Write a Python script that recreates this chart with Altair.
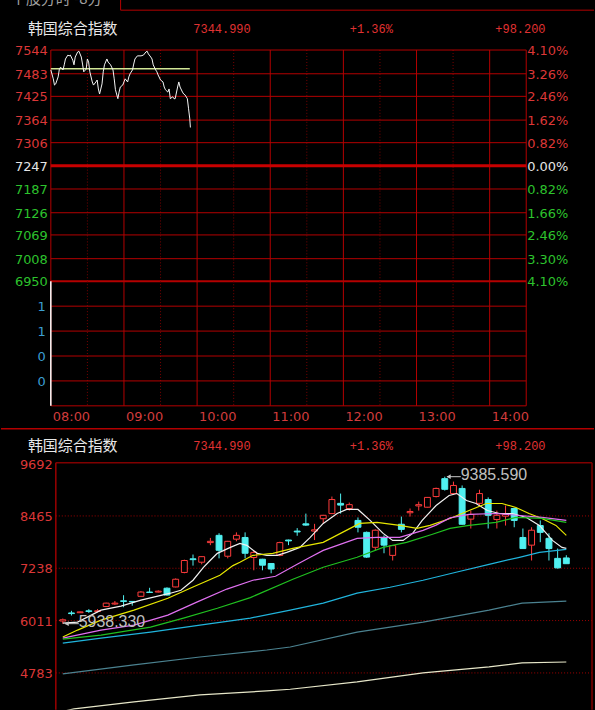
import altair as alt
import pandas as pd

# ---------------- texts ----------------
index_name = "韩国综合指数"
quote_last = "7344.990"
quote_pct = "+1.36%"
quote_chg = "+98.200"
strip_caption = "个股分时 -8分"

# ---------------- intraday panel ----------------
prev_close = 7247
price_ticks = [7544, 7483, 7425, 7364, 7306, 7247, 7187, 7126, 7069, 7008, 6950]
pct_labels = ["4.10%", "3.26%", "2.46%", "1.62%", "0.82%", "0.00%",
              "0.82%", "1.66%", "2.46%", "3.30%", "4.10%"]

vol_ticks = [1.0, 0.75, 0.5, 0.25]
vol_labels = ["1", "1", "0", "0"]
vol_minutes = [0]
vol_values = [1.25]

hour_minutes = [0, 60, 120, 180, 240, 300, 360]
hour_labels = ["08:00", "09:00", "10:00", "11:00", "12:00", "13:00", "14:00"]
half_minutes = [30, 90, 150, 210, 270, 330]
session_end = 390

intraday_minutes = [0, 2, 3, 4, 6, 7, 8, 10, 11, 12, 14, 15, 16, 18, 19, 20, 22, 23, 25, 26,
                    27, 29, 30, 31, 32, 34, 35, 37, 38, 39, 40, 42, 43, 44, 46, 47, 49, 51, 52, 53,
                    55, 56, 57, 59, 60, 61, 63, 64, 65, 67, 68, 69, 71, 74, 76, 78, 79, 80, 82, 83,
                    84, 86, 87, 88, 90, 92, 93, 94, 96, 97, 98, 100, 101, 102, 104, 105, 106, 108,
                    109, 110, 112, 113, 114, 114.5]
intraday_prices = [7493, 7470, 7454, 7457, 7475, 7495, 7500, 7493, 7506, 7521, 7531, 7529, 7531,
                   7518, 7506, 7526, 7539, 7541, 7526, 7508, 7488, 7495, 7521, 7513, 7488, 7462,
                   7454, 7462, 7467, 7444, 7431, 7457, 7488, 7506, 7521, 7513, 7506, 7493, 7470,
                   7442, 7419, 7436, 7449, 7454, 7462, 7470, 7462, 7475, 7483, 7493, 7508, 7521,
                   7529, 7529, 7531, 7539, 7541, 7534, 7526, 7521, 7506, 7493, 7488, 7480, 7467,
                   7462, 7449, 7442, 7436, 7444, 7419, 7424, 7419, 7419, 7449, 7462, 7449, 7436,
                   7431, 7429, 7419, 7393, 7367, 7345]
avg_minutes = [0, 114]
avg_prices = [7496, 7496]

# ---------------- daily K-line panel ----------------
k_open = [6000, 6190, 6195, 6240, 6225, 6340, 6400, 6475, 6460, 6580,
          6680, 6680, 6770, 6800, 7140, 7460, 7380, 7840, 8010, 7520,
          7920, 7960, 7490, 7450, 7350, 7540, 7900, 8110, 8280, 8110,
          8400, 8520, 8760, 8640, 8360, 8080, 7730, 7960, 7540, 8270,
          8540, 8700, 8670, 8920, 9340, 8990, 9110, 8390, 8760, 8850,
          8380, 8460, 8640, 7960, 7780, 8240, 7940, 7470, 7480]
k_close = [6030, 6175, 6215, 6225, 6240, 6420, 6420, 6460, 6450, 6680,
           6670, 6700, 6610, 6980, 7420, 7440, 7510, 7870, 7660, 7870,
           8010, 7590, 7610, 7310, 7220, 7840, 7880, 8090, 8250, 8140,
           8480, 8850, 8720, 8730, 8200, 7500, 8130, 7780, 7770, 8150,
           8570, 8730, 8900, 9110, 9090, 9180, 8270, 8500, 8990, 8480,
           8480, 8500, 8360, 7700, 8130, 8080, 7700, 7247, 7345]
k_high = [6060, 6240, 6225, 6280, 6280, 6430, 6470, 6606, 6470, 6700,
          6780, 6720, 6790, 7000, 7440, 7560, 7520, 7950, 8060, 7880,
          8080, 8080, 7660, 7460, 7360, 7860, 7910, 8180, 8520, 8280,
          8490, 8920, 8990, 8780, 8430, 8100, 8150, 8010, 7780, 8450,
          8640, 8800, 8910, 9130, 9385.59, 9270, 9180, 8590, 9080, 8900,
          8590, 8710, 8660, 8170, 8200, 8360, 8060, 7700, 7544]
k_low = [5938.33, 6130, 6190, 6190, 6200, 6330, 6380, 6325, 6360, 6570,
         6665, 6670, 6600, 6790, 7120, 7300, 7330, 7780, 7470, 7470,
         7870, 7470, 7190, 7190, 7120, 7520, 7780, 8000, 8230, 7900,
         8290, 8510, 8520, 8590, 8080, 7480, 7660, 7590, 7420, 8080,
         8450, 8590, 8660, 8900, 9060, 8970, 8260, 8170, 8710, 8170,
         8170, 8240, 8200, 7700, 7420, 7850, 7420, 7230, 7340]
k_ticks = [9692, 8465, 7238, 6011, 4783]

ma5_idx = [0, 1.7, 4.4, 6.7, 9, 12.4, 13.6, 15, 16.2, 17, 17.8, 19.3, 20.4, 21.2, 22.4, 23.5, 24.7,
           25.8, 27.3, 28.5, 30, 31.6, 32.7, 34, 35.4, 36.9, 38, 39.2, 40.3, 41.4, 43, 44.5, 45.4,
           46.5, 47.6, 48.9, 50.3, 51.8, 53.4, 54.9, 56.4, 57.5, 58]
ma5_val = [5952, 5975, 6256, 6349, 6490, 6653, 6723, 6957, 7261, 7425, 7588, 7728, 7822, 7775, 7588,
           7541, 7541, 7612, 7728, 7962, 8289, 8523, 8617, 8617, 8360, 8056, 7892, 7892, 8056, 8360,
           8710, 8944, 8991, 8827, 8757, 8593, 8523, 8523, 8430, 8243, 7892, 7728, 7705]
ma10_idx = [0, 1.7, 4.4, 8.2, 12.1, 15, 18.1, 19.6, 20.4, 21.9, 24.2, 26.5, 30, 33.1, 34.2, 36.2,
            38.8, 40.8, 42.3, 44.6, 46.8, 48.8, 50.6, 52.2, 53.7, 55.2, 56.8, 58]
ma10_val = [5625, 5788, 6022, 6256, 6536, 6800, 7074, 7300, 7378, 7541, 7588, 7705, 7845, 8173,
            8289, 8313, 8243, 8173, 8243, 8406, 8593, 8757, 8757, 8663, 8523, 8406, 8243, 8009]
ma20_idx = [0, 4.4, 8.2, 12.1, 15.5, 18.9, 21.9, 24.5, 27, 28.5, 30, 33.9, 36.2, 38.8, 41.5, 43,
            44.6, 46.8, 49.9, 52.6, 55.2, 58]
ma20_val = [5601, 5788, 5905, 6139, 6450, 6750, 6957, 7050, 7330, 7495, 7658, 7939, 7962, 7962,
            8126, 8250, 8420, 8500, 8523, 8476, 8430, 8360]
ma30_idx = [0, 4.4, 10.1, 13.9, 17.8, 21.6, 26.5, 30, 33.9, 36.9, 39.6, 42.5, 44.6, 46.8, 49.9,
            52.2, 55.2, 58]
ma30_val = [5578, 5671, 5858, 6069, 6300, 6550, 6980, 7261, 7495, 7728, 7845, 8030, 8173, 8243,
            8313, 8430, 8406, 8313]
ma60_idx = [0, 4.4, 10.1, 15.8, 21.6, 26.2, 30, 33.9, 37.7, 41.5, 45.3, 49.1, 52.6, 54.9, 58]
ma60_val = [5484, 5601, 5742, 5905, 6069, 6256, 6419, 6653, 6793, 6957, 7144, 7331, 7495, 7612, 7682]
ma120_idx = [0, 8.2, 15.8, 23.5, 26.2, 33.9, 41.5, 49.1, 52.9, 58]
ma120_val = [4760, 4970, 5157, 5321, 5391, 5742, 5975, 6256, 6419, 6466]
ma250_idx = [0, 1.3, 8.2, 15.8, 23.5, 26.2, 33.9, 41.5, 49.1, 52.9, 58]
ma250_val = [3880, 3941, 4105, 4269, 4360, 4400, 4573, 4783, 4923, 5017, 5040]

ann_idx = [44, 0]
ann_val = [9385.59, 5938.33]
ann_label = ["9385.590", "5938.330"]

# ---------------- styles / layout ----------------
RED_GRID = "#b40000"
RED_DOT = "#780000"
RED_TXT = "#dc3737"
GREEN_TXT = "#2dc32d"
WHITE_TXT = "#e6e6e6"
BLUE_TXT = "#3c9fd2"
UP = "#ff3c3c"
DOWN = "#50f0f0"
NUM_FONT = "DejaVu Sans"

W_TOP, H_PRICE, H_VOL, GAP = 477, 232, 125, 58
W_BOT, H_BOT = 543, 247

xs_min = alt.Scale(domain=[0, session_end], nice=False, zero=False)
ys_price = alt.Scale(domain=[price_ticks[-1], price_ticks[0]], nice=False, zero=False)
# volume panel also holds the gap below it: 0.01 per pixel
ys_vol = alt.Scale(domain=[-0.58, 1.25], nice=False, zero=False)
xs_k = alt.Scale(domain=[-1.378, 60.96], nice=False, zero=False)
ys_k = alt.Scale(domain=[3918, 9692], nice=False, zero=False)

one = pd.DataFrame({"k": [0]})


def header(y_px):
    t = alt.Chart(one).mark_text(align="left", baseline="middle", font="Noto Sans CJK SC",
                                 fontSize=15, color="#e8e8e8").encode(
        x=alt.value(-23), y=alt.value(y_px), text=alt.value(index_name))
    layers = [t]
    for xp, s in [(143, quote_last), (300, quote_pct), (446, quote_chg)]:
        layers.append(alt.Chart(one).mark_text(align="left", baseline="middle", font="Liberation Mono",
                                               fontSize=12, color="#e03232").encode(
            x=alt.value(xp), y=alt.value(y_px), text=alt.value(s)))
    return layers


# ---------------- price panel ----------------
ticks_df = pd.DataFrame({"v": price_ticks, "lab": [str(v) for v in price_ticks], "pct": pct_labels})
hours_df = pd.DataFrame({"m": hour_minutes + [session_end]})
halves_df = pd.DataFrame({"m": half_minutes})
intra_df = pd.DataFrame({"m": intraday_minutes, "p": intraday_prices})
avg_df = pd.DataFrame({"m": avg_minutes, "p": avg_prices})

canvas = alt.Chart(one).mark_rect(color="#000000").encode(
    x=alt.value(-50), x2=alt.value(545), y=alt.value(-60), y2=alt.value(662))
strip_v = alt.Chart(one).mark_rule(color=RED_GRID).encode(
    x=alt.value(70), y=alt.value(-60), y2=alt.value(-40))
strip_h = alt.Chart(one).mark_rule(color=RED_GRID).encode(
    x=alt.value(70), x2=alt.value(545), y=alt.value(-40))
strip_txt = alt.Chart(one).mark_text(align="left", baseline="bottom", font="Noto Sans CJK SC",
                                     fontSize=15, color="#a0a0a0").encode(
    x=alt.value(-40), y=alt.value(-43), text=alt.value(strip_caption))

hgrid = alt.Chart(ticks_df).transform_filter(f"datum.v != {prev_close}").mark_rule(color=RED_GRID).encode(
    y=alt.Y("v:Q", scale=ys_price, axis=None), x=alt.value(0), x2=alt.value(W_TOP),
    strokeWidth=alt.condition(f"datum.v == {price_ticks[-1]}", alt.value(2), alt.value(1)))
base_line = alt.Chart(pd.DataFrame({"v": [prev_close]})).mark_rule(color="#c80000", strokeWidth=3).encode(
    y=alt.Y("v:Q", scale=ys_price, axis=None), x=alt.value(0), x2=alt.value(W_TOP))
vgrid = alt.Chart(hours_df).mark_rule(color=RED_GRID).encode(
    x=alt.X("m:Q", scale=xs_min, axis=None), y=alt.value(0), y2=alt.value(H_PRICE))
vdots = alt.Chart(halves_df).mark_rule(color=RED_DOT, strokeDash=[1, 2]).encode(
    x=alt.X("m:Q", scale=xs_min, axis=None), y=alt.value(0), y2=alt.value(H_PRICE))
avg_line = alt.Chart(avg_df).mark_line(color="#d2e696", strokeWidth=1.5).encode(
    x=alt.X("m:Q", scale=xs_min, axis=None), y=alt.Y("p:Q", scale=ys_price, axis=None))
intra_line = alt.Chart(intra_df).mark_line(color="#f5f5f5", strokeWidth=1).encode(
    x=alt.X("m:Q", scale=xs_min, axis=None), y=alt.Y("p:Q", scale=ys_price, axis=None))

label_layers = []
for test, col in [(f"datum.v > {prev_close}", RED_TXT), (f"datum.v == {prev_close}", WHITE_TXT),
                  (f"datum.v < {prev_close}", GREEN_TXT)]:
    label_layers.append(alt.Chart(ticks_df).transform_filter(test).mark_text(
        align="right", baseline="middle", font=NUM_FONT, fontSize=13, dy=1, color=col).encode(
        y=alt.Y("v:Q", scale=ys_price, axis=None), x=alt.value(-3), text="lab:N"))
    label_layers.append(alt.Chart(ticks_df).transform_filter(test).mark_text(
        align="left", baseline="middle", font=NUM_FONT, fontSize=13, dy=1, color=col).encode(
        y=alt.Y("v:Q", scale=ys_price, axis=None), x=alt.value(W_TOP + 1), text="pct:N"))

price_panel = alt.layer(canvas, strip_v, strip_h, strip_txt, *header(-21), vdots, hgrid, vgrid,
                        base_line, avg_line, intra_line, *label_layers).properties(
    width=W_TOP, height=H_PRICE)

# ---------------- volume panel ----------------
vt_df = pd.DataFrame({"v": vol_ticks + [0], "lab": vol_labels + [""]})
vol_df = pd.DataFrame({"m": vol_minutes, "v": vol_values})
hl_df = pd.DataFrame({"m": hour_minutes, "lab": hour_labels})

v_hgrid = alt.Chart(vt_df).mark_rule(color=RED_GRID).encode(
    y=alt.Y("v:Q", scale=ys_vol, axis=None), x=alt.value(0), x2=alt.value(W_TOP))
v_vgrid = alt.Chart(hours_df).mark_rule(color=RED_GRID).encode(
    x=alt.X("m:Q", scale=xs_min, axis=None), y=alt.value(0), y2=alt.value(H_VOL))
v_vdots = alt.Chart(halves_df).mark_rule(color=RED_DOT, strokeDash=[1, 2]).encode(
    x=alt.X("m:Q", scale=xs_min, axis=None), y=alt.value(0), y2=alt.value(H_VOL))
vol_bar = alt.Chart(vol_df).mark_rule(color="#ffffff", strokeWidth=1.5).encode(
    x=alt.X("m:Q", scale=xs_min, axis=None), y=alt.Y("v:Q", scale=ys_vol, axis=None), y2=alt.datum(0))
vol_lab = alt.Chart(vt_df).transform_filter("datum.lab != ''").mark_text(
    align="right", baseline="middle", font=NUM_FONT, fontSize=13, color=BLUE_TXT, dy=1).encode(
    y=alt.Y("v:Q", scale=ys_vol, axis=None), x=alt.value(-5), text="lab:N")
time_lab = alt.Chart(hl_df).mark_text(align="left", baseline="middle", font=NUM_FONT, fontSize=13,
                                      color="#d23c3c", dx=2).encode(
    x=alt.X("m:Q", scale=xs_min, axis=None), y=alt.value(136), text="lab:N")
separator = alt.Chart(one).mark_rule(color=RED_GRID, strokeWidth=1.5).encode(
    x=alt.value(-50), x2=alt.value(545), y=alt.value(148))

vol_panel = alt.layer(v_vdots, v_hgrid, v_vgrid, vol_bar, vol_lab, time_lab, separator).properties(
    width=W_TOP, height=H_VOL + GAP)

# ---------------- K-line panel ----------------
k_df = pd.DataFrame({"i": list(range(len(k_open))), "o": k_open, "c": k_close, "h": k_high, "l": k_low})
ma_series = [(ma5_idx, ma5_val, "#f0f0f0"), (ma10_idx, ma10_val, "#e6e600"),
             (ma20_idx, ma20_val, "#e070f0"), (ma30_idx, ma30_val, "#20c020"),
             (ma60_idx, ma60_val, "#20b4dc"), (ma120_idx, ma120_val, "#4b8290"),
             (ma250_idx, ma250_val, "#e6e6c8")]
kt_df = pd.DataFrame({"v": k_ticks, "lab": [str(v) for v in k_ticks]})
ann_df = pd.DataFrame({"i": ann_idx, "v": ann_val, "lab": ann_label})

up_test = "datum.c >= datum.o"
kx = alt.X("i:Q", scale=xs_k, axis=None)

b_top = alt.Chart(one).mark_rule(color="#800000", strokeWidth=1.5).encode(
    x=alt.value(5), x2=alt.value(W_BOT), y=alt.value(-1))
b_left = alt.Chart(one).mark_rule(color="#9a0000", strokeWidth=1.5).encode(
    x=alt.value(5), y=alt.value(-1), y2=alt.value(H_BOT))
b_right = alt.Chart(one).mark_rule(color="#800000", strokeWidth=1.5).encode(
    x=alt.value(W_BOT), y=alt.value(-1), y2=alt.value(H_BOT))
k_grid = alt.Chart(kt_df).transform_filter(f"datum.v < {k_ticks[0]}").mark_rule(
    color="#a00000", strokeDash=[1, 2]).encode(
    y=alt.Y("v:Q", scale=ys_k, axis=None), x=alt.value(5), x2=alt.value(W_BOT))
k_lab = alt.Chart(kt_df).mark_text(align="right", baseline="middle", font=NUM_FONT, fontSize=13,
                                   color=RED_TXT, dy=1).encode(
    y=alt.Y("v:Q", scale=ys_k, axis=None), x=alt.value(2), text="lab:N")

candles = alt.Chart(k_df).transform_calculate(
    top="max(datum.o, datum.c)", bot="min(datum.o, datum.c)",
    xl="datum.i - 0.34", xr="datum.i + 0.34")
wick_hi = candles.mark_rule(strokeWidth=1).encode(
    x=kx, y=alt.Y("top:Q", scale=ys_k, axis=None), y2="h:Q",
    color=alt.condition(up_test, alt.value(UP), alt.value(DOWN)))
wick_lo = candles.mark_rule(strokeWidth=1).encode(
    x=kx, y=alt.Y("l:Q", scale=ys_k, axis=None), y2="bot:Q",
    color=alt.condition(up_test, alt.value(UP), alt.value(DOWN)))
bodies = candles.mark_rect(strokeWidth=1).encode(
    x=alt.X("xl:Q", scale=xs_k, axis=None), x2="xr:Q",
    y=alt.Y("o:Q", scale=ys_k, axis=None), y2="c:Q",
    fill=alt.condition(up_test, alt.value("#000000"), alt.value(DOWN)),
    stroke=alt.condition(up_test, alt.value(UP), alt.value(DOWN)))

ma_layers = []
for ix, vals, col in ma_series:
    ma_layers.append(alt.Chart(pd.DataFrame({"i": ix, "v": vals})).mark_line(
        strokeWidth=1.2, clip=True, color=col).encode(
        x=kx, y=alt.Y("v:Q", scale=ys_k, axis=None)))

ann_rule = alt.Chart(ann_df).transform_calculate(a="datum.i + 0.25", b="datum.i + 1.85").mark_rule(
    color="#c8c8c8", strokeWidth=1).encode(
    x=alt.X("a:Q", scale=xs_k, axis=None), x2="b:Q", y=alt.Y("v:Q", scale=ys_k, axis=None))
ann_head = alt.Chart(ann_df).transform_calculate(a="datum.i + 0.45").mark_point(
    shape="triangle-left", filled=True, size=22, color="#c8c8c8", opacity=1).encode(
    x=alt.X("a:Q", scale=xs_k, axis=None), y=alt.Y("v:Q", scale=ys_k, axis=None))
ann_text = alt.Chart(ann_df).mark_text(align="left", baseline="middle", font="Liberation Sans",
                                       fontSize=16, color="#c0c0c0", dx=16, dy=-2).encode(
    x=kx, y=alt.Y("v:Q", scale=ys_k, axis=None), text="lab:N")

k_panel = alt.layer(*header(-18), k_grid, b_top, b_left, b_right, wick_hi, wick_lo, bodies,
                    *ma_layers, ann_rule, ann_head, ann_text, k_lab).properties(
    width=W_BOT, height=H_BOT)

chart = alt.vconcat(price_panel, vol_panel, k_panel, spacing=0, bounds="flush").properties(
    background="#000000", padding={"left": 0, "top": -12, "right": 0, "bottom": 0}
).configure_view(strokeWidth=0)

chart.save("out.html", embed_options={"renderer": "svg", "actions": False})
